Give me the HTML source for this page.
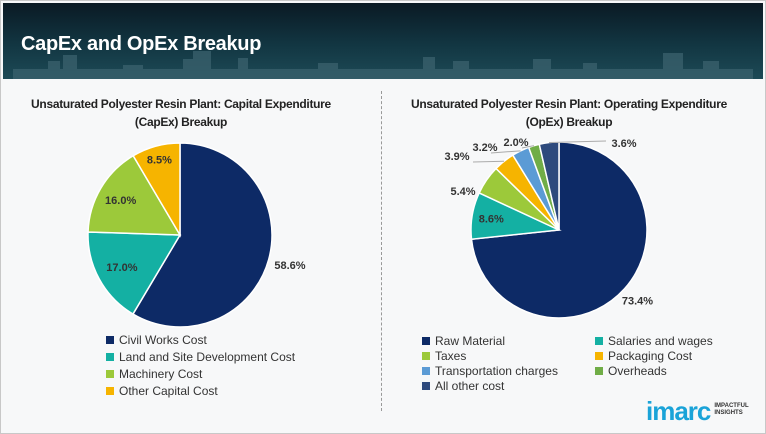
<!DOCTYPE html>
<html><head><meta charset="utf-8"><style>
body{margin:0;width:766px;height:434px;overflow:hidden;font-family:"Liberation Sans",sans-serif;background:#fff}
#wrap{position:absolute;left:0;top:0;width:764px;height:432px;border:1px solid #c8c8c8;background:#f7f8f9}
#hdr{position:absolute;left:2px;top:2px;width:760px;height:76px;background:linear-gradient(180deg,#0a1a24 0%,#123642 55%,#1d4a56 100%)}
#title{position:absolute;left:18px;top:30px;color:#fff;font-weight:bold;font-size:20px;letter-spacing:-0.3px}
.ct{position:absolute;font-weight:bold;font-size:12px;color:#222;text-align:center;line-height:18px;white-space:nowrap;letter-spacing:-0.3px}
.lg{position:absolute;font-size:12px;color:#333;white-space:nowrap}
.lg i{display:inline-block;width:8px;height:8px;margin-right:5px;vertical-align:0px}
</style></head><body>
<div id="wrap">
<div id="hdr">
<svg width="760" height="76" style="position:absolute;left:0;top:0">
<g fill="#3d6470" opacity="0.7">
<rect x="10" y="66" width="740" height="10"/><rect x="45" y="58" width="12" height="18"/><rect x="60" y="52" width="14" height="24"/><rect x="120" y="62" width="20" height="14"/><rect x="180" y="56" width="16" height="20"/><rect x="190" y="48" width="18" height="28"/><rect x="235" y="55" width="10" height="21"/><rect x="315" y="60" width="20" height="16"/><rect x="420" y="54" width="12" height="22"/><rect x="450" y="58" width="16" height="18"/><rect x="530" y="56" width="18" height="20"/><rect x="580" y="60" width="14" height="16"/><rect x="660" y="50" width="20" height="26"/><rect x="700" y="58" width="16" height="18"/></g></svg>
<div id="title">CapEx and OpEx Breakup</div></div>
<div class="ct" style="left:10px;top:94px;width:340px">Unsaturated Polyester Resin Plant: Capital Expenditure<br>(CapEx) Breakup</div>
<div class="ct" style="left:388px;top:94px;width:360px">Unsaturated Polyester Resin Plant: Operating Expenditure<br>(OpEx) Breakup</div>
<div style="position:absolute;left:380px;top:90px;height:320px;border-left:1px dashed #999"></div>
<svg id="pies" width="766" height="434" style="position:absolute;left:-1px;top:-1px"></svg>
<div class="lg" style="left:105px;top:331px;line-height:17px">
<div><i style="background:#0d2a66"></i>Civil Works Cost</div>
<div><i style="background:#14b0a3"></i>Land and Site Development Cost</div>
<div><i style="background:#9cc93a"></i>Machinery Cost</div>
<div><i style="background:#f6b400"></i>Other Capital Cost</div></div>
<div class="lg" style="left:421px;top:333px;line-height:15px">
<div><i style="background:#0d2a66"></i>Raw Material</div>
<div><i style="background:#9cc93a"></i>Taxes</div>
<div><i style="background:#5b9bd5"></i>Transportation charges</div>
<div><i style="background:#2e4a7d"></i>All other cost</div></div>
<div class="lg" style="left:594px;top:333px;line-height:15px">
<div><i style="background:#14b0a3"></i>Salaries and wages</div>
<div><i style="background:#f6b400"></i>Packaging Cost</div>
<div><i style="background:#70ad47"></i>Overheads</div></div>
<div style="position:absolute;left:645px;top:395px;font-weight:bold;font-size:26px;color:#1aa3d8;letter-spacing:-1px">imarc<span style="font-size:6px;color:#333;letter-spacing:0;vertical-align:6px;margin-left:4px;line-height:7px;display:inline-block">IMPACTFUL<br>INSIGHTS</span></div>
</div>
<script>
const capexCategories=["Civil Works Cost","Land and Site Development Cost","Machinery Cost","Other Capital Cost"];
const capexValues=[58.6,17.0,16.0,8.5];
const capexColors=["#0d2a66","#14b0a3","#9cc93a","#f6b400"];
const opexCategories=["Raw Material","Salaries and wages","Taxes","Packaging Cost","Transportation charges","Overheads","All other cost"];
const opexValues=[73.4,8.6,5.4,3.9,3.2,2.0,3.6];
const opexColors=["#0d2a66","#14b0a3","#9cc93a","#f6b400","#5b9bd5","#70ad47","#2e4a7d"];
// label layout (radius factor, null = default) — layout only
const capexLabelR=[1.24,0.72,0.75,0.85];
const opexLabelPos=[null,null,[463,191],[457,156],[485,147],[516,142],[624,143]];
const NS="http://www.w3.org/2000/svg";
const svg=document.getElementById('pies');
function pt(cx,cy,r,a){return [cx+r*Math.sin(a),cy-r*Math.cos(a)];}
function addLine(x1,y1,x2,y2,name){const ln=document.createElementNS(NS,'polyline');
 ln.setAttribute('points',`${x1},${y1} ${x2},${y2}`);ln.setAttribute('stroke','#aaa');ln.setAttribute('fill','none');
 
 
 svg.appendChild(ln);}
function pie(vals,cols,cx,cy,r,labelFn,prefix){
 const tot=vals.reduce((a,b)=>a+b,0);let a0=0;
 vals.forEach((v,i)=>{
  const a1=a0+v/tot*2*Math.PI;
  const p0=pt(cx,cy,r,a0),p1=pt(cx,cy,r,a1);
  const p=document.createElementNS(NS,'path');
  p.setAttribute('d',`M${cx},${cy}L${p0[0]},${p0[1]}A${r},${r} 0 ${a1-a0>Math.PI?1:0} 1 ${p1[0]},${p1[1]}Z`);
  p.setAttribute('fill',cols[i]);p.setAttribute('stroke','#fff');p.setAttribute('stroke-width','1.5');
  
  
  svg.appendChild(p);
  const am=(a0+a1)/2;
  const lp=labelFn(i,am,cx,cy,r);
  const t=document.createElementNS(NS,'text');
  t.setAttribute('x',lp[0]);t.setAttribute('y',lp[1]+4);t.setAttribute('text-anchor','middle');
  t.setAttribute('font-size','11');t.setAttribute('font-weight','bold');t.setAttribute('fill','#333');
  t.setAttribute('font-family','Liberation Sans, sans-serif');
  t.textContent=v.toFixed(1)+'%';
  
  
  svg.appendChild(t);
  a0=a1;});
}
pie(capexValues,capexColors,180,235,92,(i,am,cx,cy,r)=>pt(cx,cy,r*capexLabelR[i],am),'capex');
pie(opexValues,opexColors,559,230,88,(i,am,cx,cy,r)=>{
  if(i===0) return pt(cx,cy,r*1.2,am);
  if(i===1) return pt(cx,cy,r*0.78,am);
  const e=pt(cx,cy,r,am);const L=opexLabelPos[i];
  if(i===6) addLine(e[0],e[1],L[0]-18,L[1]-2,'opex-leader-'+i);
  else if(i>2) addLine(e[0],e[1],L[0]+(i===3?16:6),L[1]+6,'opex-leader-'+i);
  return L;},'opex');
</script>
</body></html>
